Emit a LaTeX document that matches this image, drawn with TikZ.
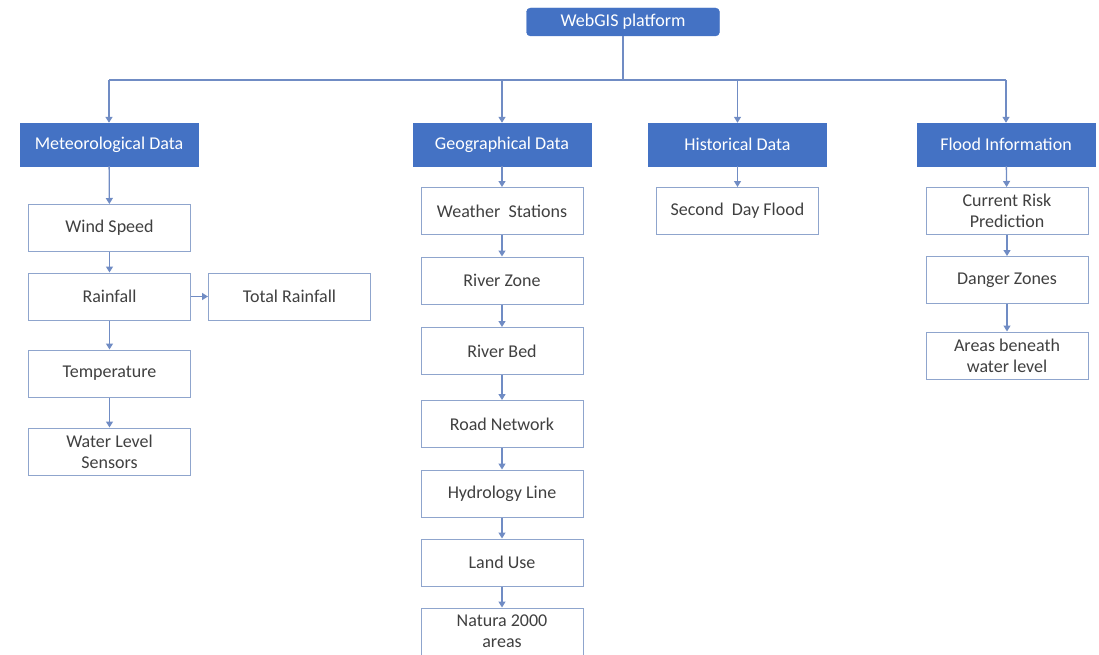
\documentclass[tikz,border=0pt]{standalone}
\usepackage{fontspec}
\setmainfont{Carlito}
\usetikzlibrary{arrows.meta}
\definecolor{hdblue}{RGB}{68,114,196}
\definecolor{lnblue}{RGB}{112,140,196}
\definecolor{bxline}{RGB}{143,165,205}
\definecolor{txgray}{RGB}{64,64,64}

\begin{document}
\begin{tikzpicture}[x=1pt,y=-1pt,
  head/.style={draw=hdblue,fill=hdblue,text=white,minimum width=178pt,minimum height=43pt,inner sep=0pt},
  item/.style={draw=bxline,line width=1pt,fill=white,text=txgray,minimum width=162pt,minimum height=47pt,inner sep=0pt,align=center},
  link/.style={draw=lnblue,line width=1.3pt,-{Triangle[width=7pt,length=6pt]}},
  font=\fontsize{18}{21}\selectfont]
  \useasboundingbox (0,0) rectangle (1099,655);
  % top of the tree
  \node[head,minimum width=193pt,minimum height=28pt,rounded corners=4pt] (web) at (623,22) {WebGIS platform};
  \coordinate (bus) at (623,80);
  % four groups
  \node[head] (meteo) at (109,144.5) {Meteorological Data};
  \node[head] (geo) at (502,144.5) {Geographical Data};
  \node[head] (hist) at (737.5,144.5) {Historical Data};
  \node[head] (flood) at (1006,144.5) {Flood Information};
  \draw[lnblue,line width=1.3pt] (web) -- (bus);
  \draw[lnblue,line width=1.3pt] (meteo.north |- bus) -- (flood.north |- bus);
  \foreach \g in {meteo,geo,hist,flood}
    \draw[link] (\g.north |- bus) -- (\g.north);
  % meteorological data
  \node[item] (wind) at (109.5,228) {Wind Speed};
  \node[item] (rain) at (109.5,296.5) {Rainfall};
  \node[item] (total) at (289.5,296.5) {Total Rainfall};
  \node[item] (temp) at (109.5,373.5) {Temperature};
  \node[item] (level) at (109.5,451.5) {Water Level\\Sensors};
  \draw[link] (meteo) -- (wind);
  \draw[link] (wind) -- (rain);
  \draw[link] (rain) -- (total);
  \draw[link] (rain) -- (temp);
  \draw[link] (temp) -- (level);
  % geographical data
  \node[item] (stations) at (502,211) {Weather\ \ Stations};
  \node[item] (zone) at (502,280.5) {River Zone};
  \node[item] (bed) at (502,351) {River Bed};
  \node[item] (road) at (502,424) {Road Network};
  \node[item] (hydro) at (502,493.5) {Hydrology Line};
  \node[item] (land) at (502,562.5) {Land Use};
  \node[item] (natura) at (502,631.5) {Natura 2000\\areas};
  \draw[link] (geo) -- (stations);
  \draw[link] (stations) -- (zone);
  \draw[link] (zone) -- (bed);
  \draw[link] (bed) -- (road);
  \draw[link] (road) -- (hydro);
  \draw[link] (hydro) -- (land);
  \draw[link] (land) -- (natura);
  % historical data
  \node[item] (second) at (737.5,211) {Second\ \ Day Flood};
  \draw[link] (hist) -- (second);
  % flood information
  \node[item] (risk) at (1007,211) {Current Risk\\Prediction};
  \node[item] (danger) at (1007,280) {Danger Zones};
  \node[item] (beneath) at (1007,355.5) {Areas beneath\\water level};
  \draw[link] (flood) -- (risk);
  \draw[link] (risk) -- (danger);
  \draw[link] (danger) -- (beneath);
\end{tikzpicture}
\end{document}
